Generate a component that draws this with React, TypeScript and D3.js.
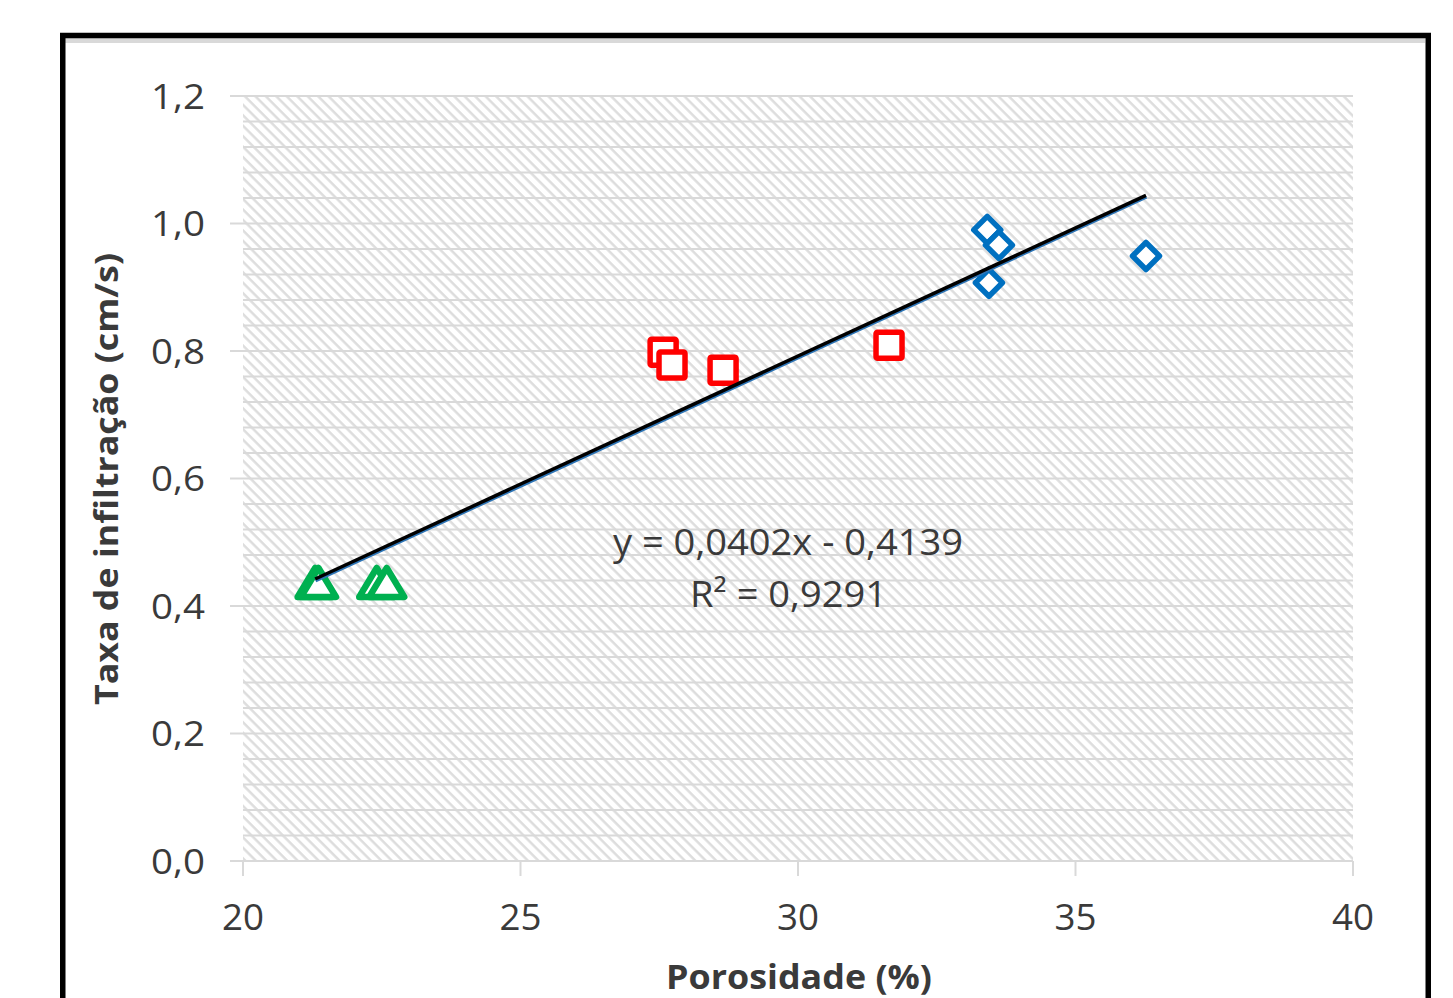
import React from "react";
import * as d3 from "d3";

// ---- data ----
const triangleX = [21.3, 21.36, 22.41, 22.59];
const triangleY = [0.437, 0.437, 0.437, 0.437];
const squareX = [27.57, 27.73, 28.65, 31.64];
const squareY = [0.798, 0.778, 0.77, 0.809];
const diamondX = [33.41, 33.62, 33.44, 36.27];
const diamondY = [0.99, 0.966, 0.907, 0.949];
const trendSlope = 0.0402;
const trendIntercept = -0.4139;
const xTicks = [20, 25, 30, 35, 40];
const yTicks = [0, 0.2, 0.4, 0.6, 0.8, 1.0, 1.2];
const yMinorTicks = d3.range(0, 31).map((i) => i * 0.04);
const equationText = "y = 0,0402x - 0,4139";
const r2Text = "R² = 0,9291";
const xTitle = "Porosidade (%)";
const yTitle = "Taxa de infiltração (cm/s)";

const W = 1453;
const H = 998;
const FONT = "'Open Sans', 'DejaVu Sans', sans-serif";

export default function App() {
  const x = d3.scaleLinear().domain([20, 40]).range([243, 1353]);
  const y = d3.scaleLinear().domain([0, 1.2]).range([861, 96]);
  const fmt = (v: number) => d3.format(".1f")(v).replace(".", ",");

  const xs = d3.extent([...triangleX, ...squareX, ...diamondX]) as [number, number];
  const trendLine = d3
    .line<number>()
    .x((d) => x(d))
    .y((d) => y(trendSlope * d + trendIntercept));

  const triPath = "M0,-16 L17.5,13 L-17.5,13 Z";
  const sq = 13;
  const di = 13.5;

  return (
    <svg
      width={W}
      height={H}
      style={{ position: "absolute", left: 0, top: 0, display: "block" }}
      xmlns="http://www.w3.org/2000/svg"
    >
      <defs>
        <pattern
          id="hatch"
          patternUnits="userSpaceOnUse"
          width={7.4}
          height={7.4}
          patternTransform="rotate(-45)"
        >
          <rect width={7.4} height={7.4} fill="#ffffff" />
          <line x1={1.5} y1={0} x2={1.5} y2={7.4} stroke="#dcdcdc" strokeWidth={2.4} />
        </pattern>
      </defs>
      <rect x={0} y={0} width={W} height={H} fill="#ffffff" />

      {/* frame */}
      <rect x={65} y={38} width={1360} height={5} fill="#d9d9d9" />
      <rect x={62.75} y={35.5} width={1365.5} height={1100} fill="none" stroke="#000" strokeWidth={5.5} />

      {/* plot area hatch */}
      <rect x={x(20)} y={y(1.2)} width={x(40) - x(20)} height={y(0) - y(1.2)} fill="url(#hatch)" />

      {/* horizontal gridlines */}
      {yMinorTicks.map((t, i) => (
        <line
          key={"g" + i}
          x1={i % 5 === 0 ? 230 : x(20)}
          x2={x(40)}
          y1={y(t)}
          y2={y(t)}
          stroke="#d9d9d9"
          strokeWidth={2}
        />
      ))}

      {/* x tick marks */}
      {xTicks.map((t) => (
        <line key={"xt" + t} x1={x(t)} x2={x(t)} y1={y(0)} y2={y(0) + 15} stroke="#d9d9d9" strokeWidth={2} />
      ))}

      {/* y tick labels */}
      {yTicks.map((t) => (
        <text
          key={"yl" + t}
          x={205}
          y={y(t) + 12.5}
          textAnchor="end"
          fontFamily={FONT}
          fontSize={35}
          fill="#3a3a3a"
          textLength={54}
          lengthAdjust="spacingAndGlyphs"
        >
          {fmt(t)}
        </text>
      ))}

      {/* x tick labels */}
      {xTicks.map((t) => (
        <text
          key={"xl" + t}
          x={x(t)}
          y={930}
          textAnchor="middle"
          fontFamily={FONT}
          fontSize={37}
          fill="#3a3a3a"
          textLength={42}
          lengthAdjust="spacingAndGlyphs"
        >
          {t}
        </text>
      ))}

      {/* axis titles */}
      <text
        x={799}
        y={989}
        textAnchor="middle"
        fontFamily={FONT}
        fontWeight="bold"
        fontSize={34}
        fill="#3a3a3a"
        textLength={266}
        lengthAdjust="spacingAndGlyphs"
      >
        {xTitle}
      </text>
      <text
        transform="translate(118,479) rotate(-90)"
        textAnchor="middle"
        fontFamily={FONT}
        fontWeight="bold"
        fontSize={32}
        fill="#3a3a3a"
        textLength={452}
        lengthAdjust="spacingAndGlyphs"
      >
        {yTitle}
      </text>

      {/* markers: triangles */}
      {triangleX.map((v, i) => (
        <path
          key={"tr" + i}
          d={triPath}
          transform={`translate(${x(v)},${y(triangleY[i]) + 1.5})`}
          fill="#ffffff"
          stroke="#00B050"
          strokeWidth={6.5}
          strokeLinejoin="round"
        />
      ))}
      {/* squares */}
      {squareX.map((v, i) => (
        <rect
          key={"sq" + i}
          x={x(v) - sq}
          y={y(squareY[i]) - sq}
          width={sq * 2}
          height={sq * 2}
          fill="#ffffff"
          stroke="#FF0000"
          strokeWidth={5.5}
          rx={1.5}
        />
      ))}
      {/* diamonds */}
      {diamondX.map((v, i) => (
        <path
          key={"di" + i}
          d={`M0,${-di} L${di},0 L0,${di} L${-di},0 Z`}
          transform={`translate(${x(v)},${y(diamondY[i])})`}
          fill="#ffffff"
          stroke="#0070C0"
          strokeWidth={5.5}
          strokeLinejoin="round"
        />
      ))}

      {/* trendline */}
      <path
        d={trendLine(xs) || ""}
        transform="translate(0.5,1.8)"
        fill="none"
        stroke="#2E75B6"
        strokeWidth={3}
      />
      <path d={trendLine(xs) || ""} fill="none" stroke="#000" strokeWidth={3.5} />

      {/* equation */}
      <text
        x={788}
        y={555}
        textAnchor="middle"
        fontFamily={FONT}
        fontSize={36}
        fill="#3a3a3a"
        textLength={350}
        lengthAdjust="spacingAndGlyphs"
      >
        {equationText}
      </text>
      <text
        x={788.5}
        y={607}
        textAnchor="middle"
        fontFamily={FONT}
        fontSize={36}
        fill="#3a3a3a"
        textLength={197}
        lengthAdjust="spacingAndGlyphs"
      >
        {r2Text}
      </text>
    </svg>
  );
}
